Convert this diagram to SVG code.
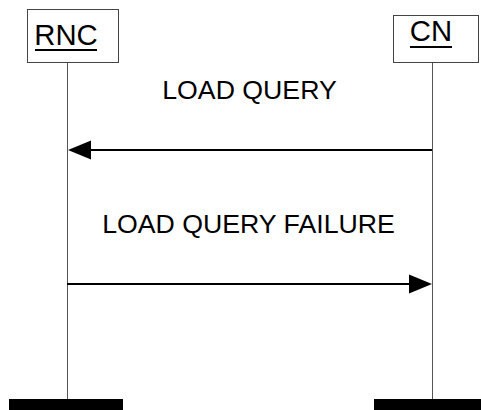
<svg xmlns="http://www.w3.org/2000/svg" width="481" height="410" viewBox="0 0 481 410">
<style>
.box{fill:#fff;stroke:#444;stroke-width:1}
.life{stroke:#555;stroke-width:1;fill:none}
.bar{fill:#000}
.ent{font-family:"Liberation Sans",Arial,sans-serif;font-size:29.3px;fill:#000;text-anchor:middle}
.msg{font-family:"Liberation Sans",Arial,sans-serif;font-size:26.7px;fill:#000;text-anchor:middle}
.ul{stroke:#000;stroke-width:2}
.arrow{stroke:#000;stroke-width:2;fill:none}
.head{fill:#000}
</style>
<rect width="481" height="410" fill="#fff"/>
<g id="RNC">
<line class="life" x1="67.5" y1="62" x2="67.5" y2="399"/>
<rect class="box" x="27.5" y="9.5" width="91" height="53"/>
<text class="ent" x="66" y="45">RNC</text>
<line class="ul" x1="35" y1="50" x2="97" y2="50"/>
<rect class="bar" x="9" y="399" width="114" height="11"/>
</g>
<g id="CN">
<line class="life" x1="432.5" y1="62" x2="432.5" y2="399"/>
<rect class="box" x="393.5" y="15.5" width="85" height="47"/>
<text class="ent" x="431" y="41">CN</text>
<line class="ul" x1="410" y1="47" x2="452" y2="47"/>
<rect class="bar" x="374" y="399" width="107" height="11"/>
</g>
<g id="connectors">
<g id="msg1">
<line class="arrow" x1="432" y1="150" x2="88" y2="150"/>
<polygon class="head" points="68,150 91,140.5 91,159.5"/>
<text class="msg" x="249.5" y="98.5">LOAD QUERY</text>
</g>
<g id="msg2">
<line class="arrow" x1="67" y1="284" x2="411" y2="284"/>
<polygon class="head" points="432,284 409,274.5 409,293.5"/>
<text class="msg" x="248.5" y="233">LOAD QUERY FAILURE</text>
</g>
</g>
</svg>
